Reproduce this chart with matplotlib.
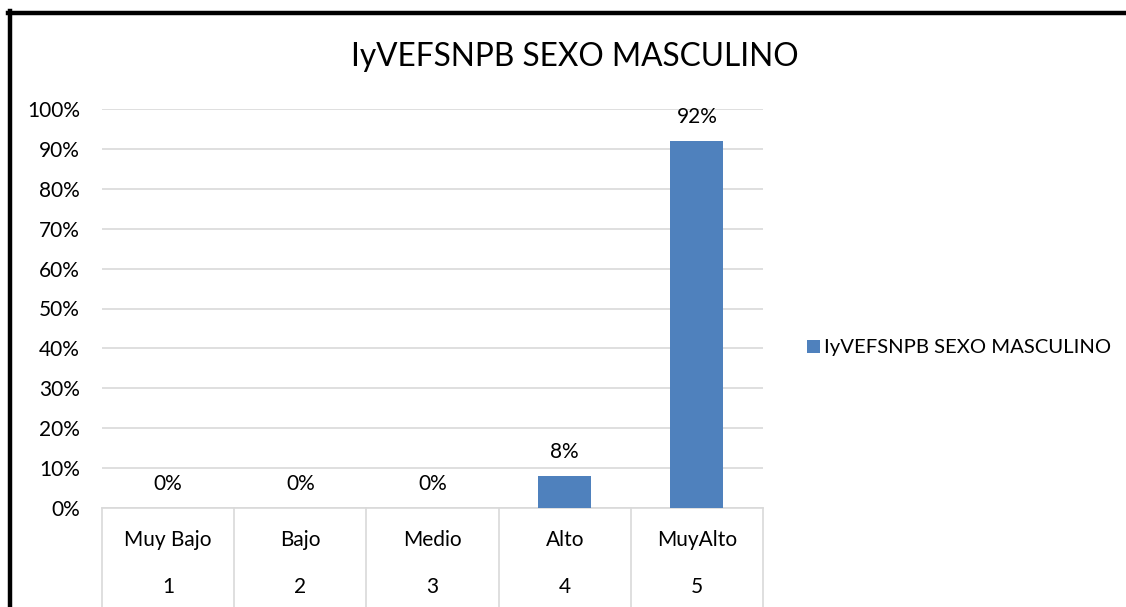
import matplotlib
matplotlib.use("Agg")
import matplotlib.pyplot as plt
from matplotlib.lines import Line2D
from matplotlib.ticker import PercentFormatter
import matplotlib.transforms as mtransforms

# data
categories = ["Muy Bajo", "Bajo", "Medio", "Alto", "MuyAlto"]
codes = ["1", "2", "3", "4", "5"]
values = [0.0, 0.0, 0.0, 0.08, 0.92]
series_name = "IyVEFSNPB SEXO MASCULINO"

plt.rcParams["font.family"] = ["Lato", "DejaVu Sans"]
BAR = "#4F81BD"
GRID = "#D9D9D9"
FS = 15

fig = plt.figure(figsize=(11.26, 6.07), dpi=100)
ax = fig.add_axes([102 / 1126, 1 - 508 / 607, 661 / 1126, 399 / 607])

x = list(range(len(categories)))
bars = ax.bar(x, values, width=0.4, color=BAR, zorder=3, label=series_name)
ax.set_xlim(-0.5, len(categories) - 0.5)
ax.set_ylim(0, 1)
ax.set_yticks([i / 10 for i in range(11)])
ax.yaxis.set_major_formatter(PercentFormatter(1.0, decimals=0))
ax.tick_params(axis="y", length=0, pad=16, labelsize=FS, labelcolor="#000000")
ax.set_xticks([])
ax.grid(axis="y", color=GRID, lw=1.2, zorder=0)
for s in ["top", "right", "left"]:
    ax.spines[s].set_visible(False)
ax.spines["bottom"].set_color(GRID)
ax.spines["bottom"].set_linewidth(1.2)

# data labels
for xi, v in zip(x, values):
    ax.annotate(f"{v:.0%}", (xi, v), xytext=(0, 10), textcoords="offset points",
                ha="center", va="bottom", fontsize=FS)

# category table below the axis
trans = mtransforms.blended_transform_factory(ax.transData, ax.transAxes)
for i in range(len(categories) + 1):
    ax.add_line(Line2D([i - 0.5, i - 0.5], [0, -0.30], transform=trans,
                       color=GRID, lw=1.2, clip_on=False))
for xi, name, code in zip(x, categories, codes):
    ax.text(xi, -0.08, name, transform=trans, ha="center", va="center", fontsize=FS)
    ax.text(xi, -0.198, code, transform=trans, ha="center", va="center", fontsize=FS)

fig.text(575 / 1126, 1 - 57 / 607, series_name, ha="center", va="center", fontsize=22.8)

fig.legend(handles=[bars], loc="center left", bbox_to_anchor=(789 / 1126, 1 - 348 / 607),
           frameon=False, fontsize=14.6, handlelength=0.65, handleheight=0.65,
           handletextpad=0.2)

# outer frame (top and left edges)
fig.add_artist(Line2D([8 / 1126, 1], [1 - 12.5 / 607] * 2, transform=fig.transFigure,
                      color="black", lw=3.2))
fig.add_artist(Line2D([10 / 1126] * 2, [0, 1 - 11 / 607], transform=fig.transFigure,
                      color="black", lw=3.2))

fig.savefig("out.png", dpi=100)
